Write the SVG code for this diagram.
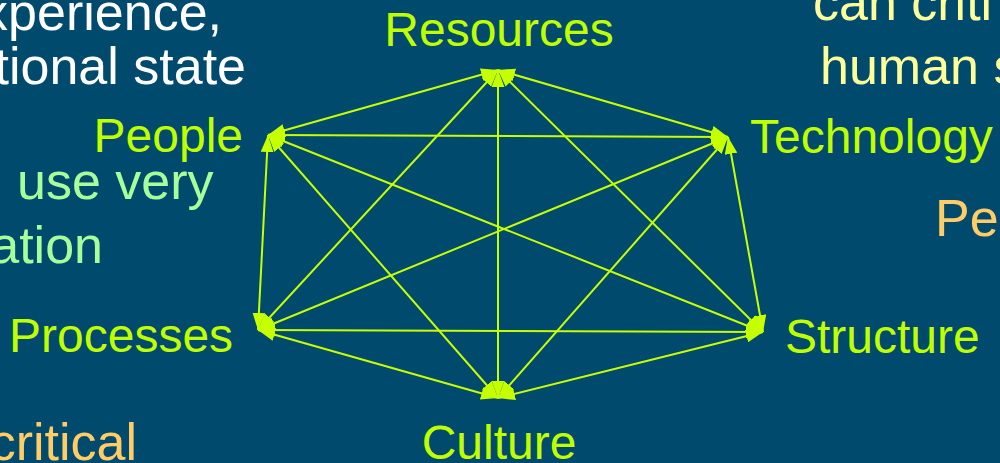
<svg xmlns="http://www.w3.org/2000/svg" width="1000" height="463" viewBox="0 0 1000 463">
  <defs>
    <marker id="head" viewBox="0 0 16 12" refX="16" refY="6" markerWidth="17" markerHeight="13" markerUnits="userSpaceOnUse" orient="auto-start-reverse">
      <path d="M0,0 L16,6 L0,12 Z" fill="#C6FF00"/>
    </marker>
    <style>
      .bg-text { font-family: "Liberation Sans", Arial, sans-serif; font-size: 52px; }
      .label { font-family: "Liberation Sans", Arial, sans-serif; font-size: 48px; fill: #BFFF00; }
      .edge { stroke: #C6FF00; stroke-width: 2; fill: none; marker-start: url(#head); marker-end: url(#head); }
    </style>
  </defs>

  <rect width="1000" height="463" fill="#004A6E"/>

  <!-- slide text behind the diagram -->
  <g id="background-text" class="bg-text">
    <text x="222" y="30" text-anchor="end" fill="#FFFFFF">xperience,</text>
    <text x="246" y="84" text-anchor="end" fill="#FFFFFF">tional state</text>
    <text x="17" y="199" fill="#A6FF99">use very</text>
    <text x="103" y="263" text-anchor="end" fill="#A6FF99">ation</text>
    <text x="137" y="460" text-anchor="end" fill="#FFCC66">critical</text>
    <text x="813" y="20" fill="#FFFF99">can criti</text>
    <text x="820" y="84" fill="#FFFF99">human s</text>
    <text x="935" y="236" fill="#FFCC66">Pe</text>
  </g>

  <!-- every node linked to every other node -->
  <g id="connectors">
    <line class="edge" x1="498" y1="70" x2="728" y2="137"/>
    <line class="edge" x1="498" y1="70" x2="763" y2="332"/>
    <line class="edge" x1="498" y1="70" x2="498" y2="398"/>
    <line class="edge" x1="498" y1="70" x2="258" y2="330"/>
    <line class="edge" x1="498" y1="70" x2="268" y2="135"/>
    <line class="edge" x1="728" y1="137" x2="763" y2="332"/>
    <line class="edge" x1="728" y1="137" x2="498" y2="398"/>
    <line class="edge" x1="728" y1="137" x2="258" y2="330"/>
    <line class="edge" x1="728" y1="137" x2="268" y2="135"/>
    <line class="edge" x1="763" y1="332" x2="498" y2="398"/>
    <line class="edge" x1="763" y1="332" x2="258" y2="330"/>
    <line class="edge" x1="763" y1="332" x2="268" y2="135"/>
    <line class="edge" x1="498" y1="398" x2="258" y2="330"/>
    <line class="edge" x1="498" y1="398" x2="268" y2="135"/>
    <line class="edge" x1="258" y1="330" x2="268" y2="135"/>
  </g>

  <g id="node-resources"><text class="label" x="499" y="46" text-anchor="middle">Resources</text></g>
  <g id="node-technology"><text class="label" x="750" y="153">Technology</text></g>
  <g id="node-structure"><text class="label" x="785" y="353">Structure</text></g>
  <g id="node-culture"><text class="label" x="499" y="459" text-anchor="middle">Culture</text></g>
  <g id="node-processes"><text class="label" x="9" y="352">Processes</text></g>
  <g id="node-people"><text class="label" x="243" y="152" text-anchor="end">People</text></g>
</svg>
